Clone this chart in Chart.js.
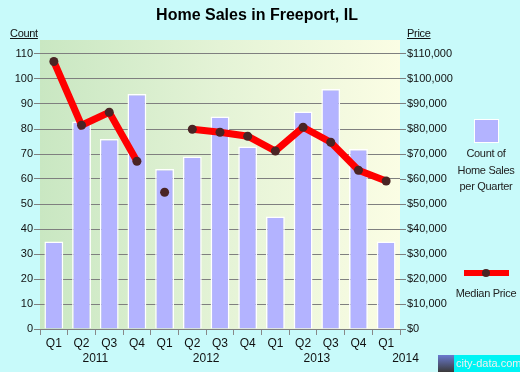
<!DOCTYPE html>
<html>
<head>
<meta charset="utf-8">
<script src="https://cdn.jsdelivr.net/npm/chart.js@4/dist/chart.umd.min.js"></script>
<style>
  body { margin: 0; background: #c8fafa; font-family: 'Liberation Sans', Arial, sans-serif; }
  #wrap { position: relative; width: 520px; height: 372px; overflow: hidden; }
  #chart { position: absolute; left: 0; top: 0; }
  #title { position: absolute; left: 0; width: 514px; top: 6px; text-align: center; font-weight: bold; font-size: 16px; color: #000; }
  .axname { position: absolute; top: 27px; font-size: 11px; letter-spacing: -0.3px; text-decoration: underline; color: #111; }
  #legBox { position: absolute; left: 474px; top: 119px; width: 23px; height: 22px; background: #b3b3ff; border: 1px solid #fff; }
  #legLine { position: absolute; left: 464px; top: 270px; width: 45px; height: 6px; background: #ff0000; }
  #legDot { position: absolute; left: 482px; top: 269px; width: 8px; height: 8px; border-radius: 50%; background: #4a2424; }
  .legTxt { position: absolute; width: 80px; left: 446px; text-align: center; font-size: 11px; letter-spacing: -0.3px; line-height: 16.5px; color: #222; white-space: nowrap; }
  #wm { position: absolute; left: 438px; top: 355px; width: 82px; height: 17px; background: #00f4f4; }
  #wm .ic { position: absolute; left: 0; top: 0; width: 16px; height: 17px; background: linear-gradient(#6a7ad0, #3a3a3a); }
  #wm .tx { position: absolute; left: 18px; top: 2px; font-size: 11px; color: #f0f0f0; white-space: nowrap; }
</style>
</head>
<body>
<div id="wrap">
  <canvas id="chart" width="520" height="372"></canvas>
  <div id="title">Home Sales in Freeport, IL</div>
  <div class="axname" style="left:10px">Count</div>
  <div class="axname" style="left:407px">Price</div>
  <div id="legBox"></div>
  <div class="legTxt" style="top:145px">Count of<br>Home Sales<br>per Quarter</div>
  <div id="legLine"></div>
  <div id="legDot"></div>
  <div class="legTxt" style="top:285px">Median Price</div>
  <div id="wm"><div class="ic"></div><div class="tx">city-data.com</div></div>
</div>
<script>
const quarters = ['Q1','Q2','Q3','Q4','Q1','Q2','Q3','Q4','Q1','Q2','Q3','Q4','Q1'];
const years = ['2011','2012','2013','2014'];
const yearCenters = [1.5, 5.5, 9.5, 12.7];
const salesCount = [35, 83, 76, 94, 64, 69, 85, 73, 45, 87, 96, 72, 35];
const medianPrice = [107000, 81500, 86700, 67100, 54700, 79900, 78700, 77100, 71200, 80700, 74700, 63500, 59200];
const countTicks = [0, 10, 20, 30, 40, 50, 60, 70, 80, 90, 100, 110];
const priceTicks = [0, 10000, 20000, 30000, 40000, 50000, 60000, 70000, 80000, 90000, 100000, 110000];
const brokenAfter = [3, 4]; // no line drawn from these points to the next one

const fontTicks = { family: "'Liberation Sans', Arial, sans-serif", size: 11 };

function dollars(v) {
  return '$' + String(Math.round(v)).replace(/\B(?=(\d{3})+(?!\d))/g, ',');
}

const plotBg = {
  id: 'plotBg',
  beforeDraw(chart) {
    const { ctx, chartArea: a } = chart;
    const g = ctx.createLinearGradient(a.left, 0, a.right, 0);
    g.addColorStop(0, '#c9e7c2');
    g.addColorStop(0.5, '#e4f3d6');
    g.addColorStop(1, '#fbfde4');
    ctx.save();
    ctx.fillStyle = g;
    ctx.fillRect(a.left, a.top, a.right - a.left, a.bottom - a.top);
    ctx.restore();
  }
};

const yearLabels = {
  id: 'yearLabels',
  afterDraw(chart) {
    const { ctx, chartArea: a } = chart;
    const x = chart.scales.x;
    ctx.save();
    ctx.font = "12px 'Liberation Sans', Arial, sans-serif";
    ctx.fillStyle = '#111';
    ctx.textAlign = 'center';
    ctx.textBaseline = 'middle';
    years.forEach((y, i) => {
      ctx.fillText(y, x.getPixelForValue(yearCenters[i]), a.bottom + 30);
    });
    ctx.restore();
  }
};

const data_chart = {
  labels: quarters,
  datasets: [
    {
      type: 'line',
      label: 'Median Price',
      data: medianPrice,
      yAxisID: 'y1',
      borderColor: '#ff0000',
      borderWidth: 7,
      pointRadius: 4.5,
      pointBackgroundColor: '#4a2424',
      pointBorderWidth: 0,
      tension: 0,
      order: 0,
      segment: {
        borderColor: ctx => brokenAfter.includes(ctx.p0DataIndex) ? 'rgba(0,0,0,0)' : '#ff0000'
      }
    },
    {
      type: 'bar',
      label: 'Count of Home Sales per Quarter',
      data: salesCount,
      yAxisID: 'y',
      backgroundColor: '#b3b3ff',
      borderColor: '#ffffff',
      borderWidth: 1.5,
      barPercentage: 0.68,
      categoryPercentage: 1,
      order: 1
    }
  ]
};

const config = {
  data: data_chart,
  plugins: [plotBg, yearLabels],
  options: {
    responsive: false,
    animation: false,
    devicePixelRatio: 1,
    layout: { padding: { top: 40, left: 0, right: 0, bottom: 0 } },
    plugins: { legend: { display: false }, tooltip: { enabled: false } },
    scales: {
      x: {
        offset: true,
        border: { display: false },
        grid: { offset: true, drawOnChartArea: false, tickLength: 6, color: '#888', lineWidth: 1 },
        ticks: { color: '#111', font: { family: "'Liberation Sans', Arial, sans-serif", size: 12 }, padding: 1, maxRotation: 0, autoSkip: false },
        afterFit: s => { s.height = 43; }
      },
      y: {
        position: 'left',
        min: 0,
        max: 115.6,
        border: { display: false },
        grid: { color: '#7f7f7f', lineWidth: 1, tickLength: 6 },
        ticks: { color: '#111', font: fontTicks, padding: 1, autoSkip: false },
        afterBuildTicks: s => { s.ticks = countTicks.map(v => ({ value: v })); },
        afterFit: s => { s.width = 40; }
      },
      y1: {
        position: 'right',
        min: 0,
        max: 115600,
        border: { display: false },
        grid: { drawOnChartArea: false, color: '#7f7f7f', lineWidth: 1, tickLength: 6 },
        ticks: { color: '#111', font: fontTicks, padding: 1, autoSkip: false, callback: v => dollars(v) },
        afterBuildTicks: s => { s.ticks = priceTicks.map(v => ({ value: v })); },
        afterFit: s => { s.width = 120; }
      }
    }
  }
};

const Charts = new Chart(document.getElementById('chart'), config);
</script>
</body>
</html>
